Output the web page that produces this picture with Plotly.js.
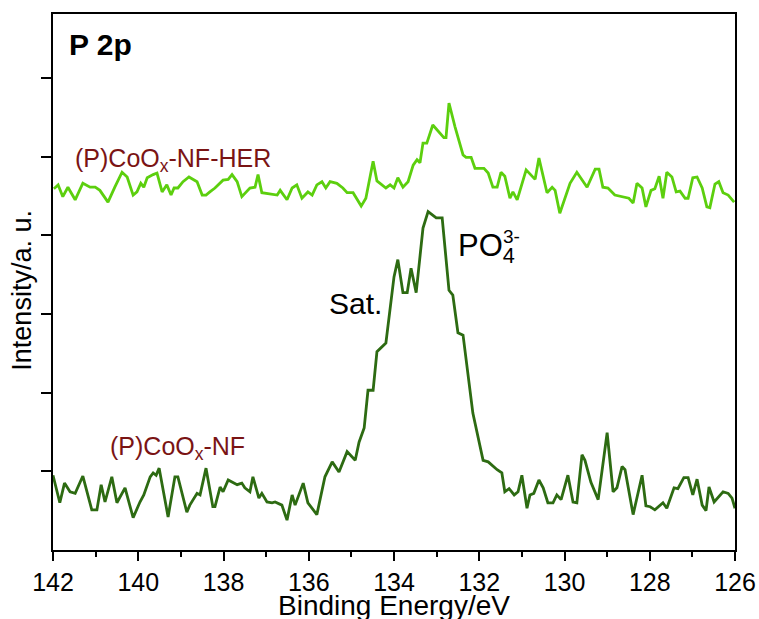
<!DOCTYPE html>
<html>
<head>
<meta charset="utf-8">
<script src="https://cdn.plot.ly/plotly-3.0.1.min.js"></script>
<style>html,body{margin:0;padding:0;background:#fff;}#chart{width:759px;height:619px;}</style>
</head>
<body>
<div id="chart"></div>
<script>
// Binding energy (eV) and intensity (a.u.) for (P)CoOx-NF
const nfEnergy = [142.00,141.84,141.73,141.60,141.48,141.30,141.09,140.97,140.87,140.78,140.62,140.50,140.31,140.12,139.96,139.87,139.72,139.65,139.58,139.51,139.30,139.14,139.07,138.86,138.79,138.62,138.55,138.41,138.25,138.20,138.08,138.01,137.89,137.68,137.57,137.50,137.38,137.31,137.17,137.10,136.98,136.86,136.79,136.63,136.51,136.39,136.32,136.13,136.02,135.81,135.62,135.45,135.29,135.10,134.91,134.82,134.70,134.61,134.49,134.40,134.19,134.00,133.91,133.79,133.69,133.60,133.48,133.32,133.20,133.01,132.87,132.71,132.62,132.50,132.38,132.15,131.91,131.79,131.58,131.47,131.40,131.30,131.18,131.09,131.00,130.88,130.81,130.72,130.60,130.50,130.39,130.27,130.18,130.08,129.92,129.80,129.71,129.59,129.52,129.38,129.21,129.00,128.86,128.77,128.65,128.58,128.39,128.18,128.09,127.99,127.88,127.69,127.60,127.43,127.34,127.20,127.10,126.99,126.89,126.77,126.68,126.61,126.49,126.28,126.16,126.07,126.00];
const nfIntensity = [0.95,0.60,0.85,0.74,0.72,0.94,0.51,0.51,0.83,0.61,0.93,0.60,0.79,0.41,0.61,0.70,0.93,0.98,0.95,1.04,0.42,0.93,0.93,0.48,0.57,0.72,0.70,1.04,0.55,0.55,0.80,0.74,0.89,0.83,0.85,0.79,0.74,0.93,0.66,0.72,0.61,0.60,0.61,0.57,0.38,0.70,0.57,0.85,0.60,0.45,0.93,1.12,0.99,1.25,1.14,1.37,1.55,2.03,2.03,2.52,2.63,3.47,3.69,3.27,3.27,3.58,3.27,4.09,4.30,4.22,4.22,3.30,3.24,2.76,2.73,1.74,1.14,1.12,1.02,0.98,0.74,0.78,0.70,0.74,0.95,0.53,0.70,0.72,0.89,0.79,0.60,0.60,0.70,0.64,0.95,0.61,0.60,1.21,1.14,0.86,0.64,1.49,0.74,0.79,1.06,1.02,0.45,0.95,0.56,0.55,0.51,0.60,0.53,0.79,0.78,0.92,0.92,0.70,0.90,0.57,0.50,0.80,0.61,0.74,0.72,0.66,0.53];

// Binding energy (eV) and intensity (a.u.) for (P)CoOx-NF-HER
const herEnergy = [141.98,141.88,141.77,141.65,141.48,141.30,141.13,141.01,140.90,140.71,140.55,140.38,140.26,140.12,140.03,139.94,139.87,139.79,139.65,139.56,139.44,139.33,139.23,139.16,139.07,138.95,138.81,138.62,138.50,138.41,138.32,138.20,138.01,137.89,137.80,137.68,137.57,137.38,137.26,137.19,137.10,136.91,136.74,136.67,136.51,136.39,136.28,136.16,136.02,135.92,135.81,135.69,135.60,135.50,135.34,135.20,135.10,134.96,134.77,134.66,134.49,134.40,134.19,134.09,134.00,133.91,133.79,133.67,133.55,133.46,133.39,133.32,133.23,133.09,132.94,132.83,132.78,132.71,132.57,132.50,132.38,132.31,132.19,132.10,131.98,131.89,131.79,131.68,131.58,131.49,131.40,131.28,131.21,131.11,130.90,130.74,130.69,130.60,130.41,130.29,130.22,130.11,129.87,129.71,129.47,129.28,129.19,129.10,128.98,128.82,128.63,128.49,128.39,128.30,128.18,128.09,127.97,127.88,127.78,127.69,127.60,127.48,127.38,127.29,127.17,127.10,126.99,126.89,126.77,126.66,126.59,126.47,126.38,126.28,126.16,126.02];
const herIntensity = [4.59,4.64,4.49,4.61,4.45,4.66,4.61,4.61,4.57,4.42,4.61,4.80,4.74,4.51,4.55,4.66,4.61,4.73,4.77,4.79,4.55,4.64,4.51,4.60,4.60,4.68,4.74,4.68,4.51,4.51,4.55,4.60,4.70,4.71,4.77,4.68,4.49,4.60,4.61,4.77,4.54,4.52,4.51,4.57,4.45,4.60,4.64,4.47,4.55,4.51,4.64,4.68,4.60,4.68,4.66,4.60,4.54,4.54,4.37,4.47,4.94,4.69,4.60,4.64,4.60,4.73,4.61,4.68,4.89,4.96,4.92,5.17,5.17,5.40,5.30,5.24,5.24,5.68,5.38,5.25,5.02,4.99,4.99,4.85,4.85,4.85,4.79,4.61,4.61,4.80,4.75,4.47,4.55,4.45,4.83,4.73,4.71,4.98,4.54,4.61,4.57,4.28,4.66,4.80,4.61,4.84,4.84,4.61,4.60,4.51,4.49,4.47,4.41,4.66,4.60,4.36,4.57,4.59,4.75,4.47,4.80,4.74,4.55,4.56,4.47,4.47,4.73,4.74,4.60,4.36,4.35,4.65,4.68,4.54,4.51,4.42];

const xTickVals = [142,140,138,136,134,132,130,128,126];
const xTickText = ["142","140","138","136","134","132","130","128","126"];
const yTickVals = [1,2,3,4,5,6];

const FONT = "Liberation Sans, Arial, sans-serif";

const traces = [
  {x: nfEnergy, y: nfIntensity, type: "scatter", mode: "lines", name: "(P)CoOx-NF",
   line: {color: "#2d6b12", width: 2.8}, hoverinfo: "skip"},
  {x: herEnergy, y: herIntensity, type: "scatter", mode: "lines", name: "(P)CoOx-NF-HER",
   line: {color: "#5ccf0e", width: 2.8}, hoverinfo: "skip"}
];

const layout = {
  width: 759, height: 619,
  margin: {l: 53, r: 24, t: 14, b: 69},
  paper_bgcolor: "#ffffff", plot_bgcolor: "#ffffff",
  showlegend: false,
  font: {family: FONT, color: "#000"},
  xaxis: {
    range: [142, 126], tickvals: xTickVals, ticktext: xTickText,
    ticks: "outside", ticklen: 9, tickwidth: 2, tickcolor: "#000",
    minor: {dtick: 1, tick0: 126, ticks: "outside", ticklen: 5, tickwidth: 2, tickcolor: "#000", showgrid: false},
    showline: true, linecolor: "#000", linewidth: 2, mirror: true,
    showgrid: false, zeroline: false,
    tickfont: {size: 25, family: FONT, color: "#000"},
    title: {text: ""}
  },
  yaxis: {
    range: [0, 6.811], tickvals: yTickVals, showticklabels: false,
    ticks: "outside", ticklen: 10, tickwidth: 2, tickcolor: "#000",
    showline: true, linecolor: "#000", linewidth: 2, mirror: true,
    showgrid: false, zeroline: false,
    title: {text: ""}
  },
  annotations: [
    {xref: "paper", yref: "paper", x: 0.5, y: -0.103, xanchor: "center", yanchor: "middle",
     text: "Binding Energy/eV", showarrow: false, font: {size: 28, family: FONT, color: "#000"}},
    {xref: "paper", yref: "paper", x: -0.046, y: 0.485, xanchor: "center", yanchor: "middle", textangle: -90,
     text: "Intensity/a. u.", showarrow: false, font: {size: 27, family: FONT, color: "#000"}},
    {xref: "paper", yref: "paper", x: 0.069, y: 0.944, xanchor: "center", yanchor: "middle",
     text: "<b>P 2p</b>", showarrow: false, font: {size: 30, family: FONT, color: "#000"}},
    {xref: "paper", yref: "paper", x: 0.176, y: 0.727, xanchor: "center", yanchor: "middle",
     text: "(P)CoO<sub>x</sub>-NF-HER", showarrow: false, font: {size: 25, family: FONT, color: "#7a1414"}},
    {xref: "paper", yref: "paper", x: 0.183, y: 0.19, xanchor: "center", yanchor: "middle",
     text: "(P)CoO<sub>x</sub>-NF", showarrow: false, font: {size: 25, family: FONT, color: "#7a1414"}},
    {xref: "paper", yref: "paper", x: 0.443, y: 0.46, xanchor: "center", yanchor: "middle",
     text: "Sat.", showarrow: false, font: {size: 30, family: FONT, color: "#000"}},
    {xref: "paper", yref: "paper", x: 0.591, y: 0.563, xanchor: "left", yanchor: "middle",
     text: "PO<sub>4</sub>", showarrow: false, font: {size: 31, family: FONT, color: "#000"}},
    {xref: "paper", yref: "paper", x: 0.657, y: 0.585, xanchor: "left", yanchor: "middle",
     text: "3-", showarrow: false, font: {size: 19, family: FONT, color: "#000"}}
  ]
};

Plotly.newPlot("chart", traces, layout, {staticPlot: true, displayModeBar: false});
</script>
</body>
</html>
